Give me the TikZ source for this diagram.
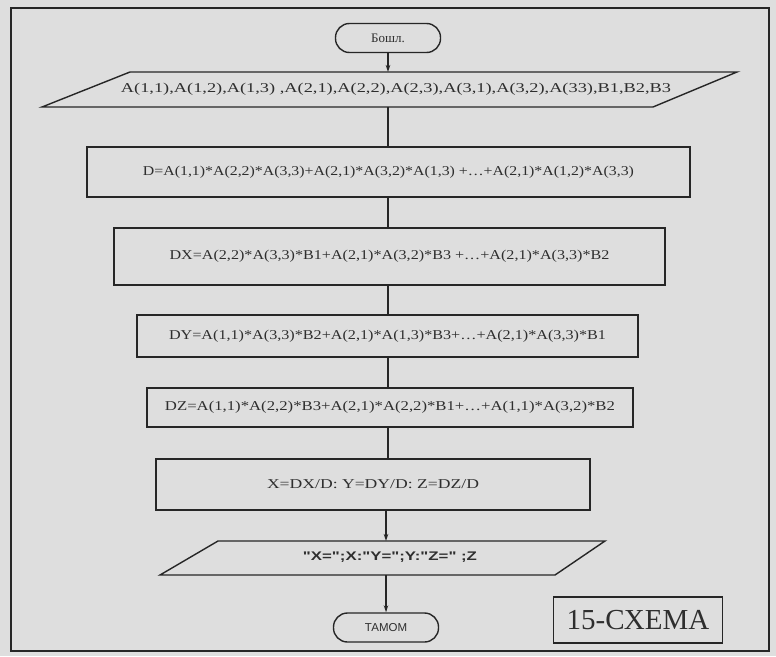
\documentclass[tikz,border=0pt]{standalone}
\usepackage{fontspec}
\setmainfont{Liberation Serif}
\newfontfamily\sansf{Liberation Sans}
\usepackage{graphicx}
\usetikzlibrary{arrows.meta}
% set a line of text to a given width, keeping its natural height
\newcommand\fitw[2]{\resizebox{#1pt}{\height}{#2}}
\definecolor{paper}{HTML}{DEDEDE}
\definecolor{ink}{HTML}{262626}
\definecolor{txt}{HTML}{2E2E2E}
\begin{document}
\begin{tikzpicture}[x=1pt,y=-1pt,
  line width=1.4pt,
  every node/.style={text=txt},
  proc/.style={draw=ink, rectangle, inner sep=0pt, font=\fontsize{13.5}{15}\selectfont},
  term/.style={draw=ink, rectangle, rounded corners=14pt, inner sep=0pt,
               minimum width=105pt, minimum height=29pt, font=\fontsize{13}{15}\selectfont},
  label/.style={inner sep=0pt, font=\fontsize{13.5}{15}\selectfont},
  flow/.style={draw=ink, line width=1.2pt},
  arr/.style={flow, -{Stealth[length=7pt,width=4.5pt]}}]

% page and outer frame
\fill[paper] (0,0) rectangle (776,656);
\useasboundingbox (0,0) rectangle (776,656);
\draw[ink, line width=1.7pt] (11,8) rectangle (769,651);

% terminals
\node[term] (start) at (388,38) {Бошл.};
\node[term] (stop) at (386,627.5) {\sansf\fontsize{11.5}{13}\selectfont ТАМОМ};

% input parallelogram
\draw[ink] (130,72) -- (737,72) -- (653,107) -- (42,107) -- cycle;
\node[label] (inp) at (396,89)
  {\fitw{550}{A(1,1),A(1,2),A(1,3) ,A(2,1),A(2,2),A(2,3),A(3,1),A(3,2),A(33),B1,B2,B3}};
\coordinate (inpTop) at (388,72);
\coordinate (inpBot) at (388,107);

% process boxes
\node[proc, minimum width=603pt, minimum height=50pt] (pD) at (388.5,172)
  {\fitw{491}{D=A(1,1)*A(2,2)*A(3,3)+A(2,1)*A(3,2)*A(1,3) +\dots+A(2,1)*A(1,2)*A(3,3)}};
\node[proc, minimum width=551pt, minimum height=57pt] (pDX) at (389.5,256.5)
  {\fitw{440}{DX=A(2,2)*A(3,3)*B1+A(2,1)*A(3,2)*B3 +\dots+A(2,1)*A(3,3)*B2}};
\node[proc, minimum width=501pt, minimum height=42pt] (pDY) at (387.5,336)
  {\fitw{437}{DY=A(1,1)*A(3,3)*B2+A(2,1)*A(1,3)*B3+\dots+A(2,1)*A(3,3)*B1}};
\node[proc, minimum width=486pt, minimum height=39pt] (pDZ) at (390,407.5)
  {\fitw{450}{DZ=A(1,1)*A(2,2)*B3+A(2,1)*A(2,2)*B1+\dots+A(1,1)*A(3,2)*B2}};
\node[proc, minimum width=434pt, minimum height=51pt] (pX) at (373,484.5)
  {\fitw{212}{X=DX/D: Y=DY/D: Z=DZ/D}};

% output parallelogram
\draw[ink] (218,541) -- (605,541) -- (555,575) -- (160,575) -- cycle;
\node[label] (out) at (390,557)
  {\sansf\bfseries\fontsize{12.5}{14}\selectfont\fitw{174}{"X=";X:"Y=";Y:"Z=" ;Z}};
\coordinate (outTop) at (386,541);
\coordinate (outBot) at (386,575);

% caption box
\node[draw=ink, line width=1.5pt, inner sep=0pt, minimum width=169pt, minimum height=46pt,
      font=\fontsize{29}{31}\selectfont] (cap) at (638,620) {15-СХЕМА};

% connectors
\draw[arr] (start.south) -- (inpTop);
\draw[flow] (inpBot) -- (inpBot |- pD.north);
\draw[flow] (pD.south -| 388,0) -- (pDX.north -| 388,0);
\draw[flow] (pDX.south -| 388,0) -- (pDY.north -| 388,0);
\draw[flow] (pDY.south -| 388,0) -- (pDZ.north -| 388,0);
\draw[flow] (pDZ.south -| 388,0) -- (pX.north -| 388,0);
\draw[arr] (pX.south -| outTop) -- (outTop);
\draw[arr] (outBot) -- (stop.north);
\end{tikzpicture}
\end{document}
